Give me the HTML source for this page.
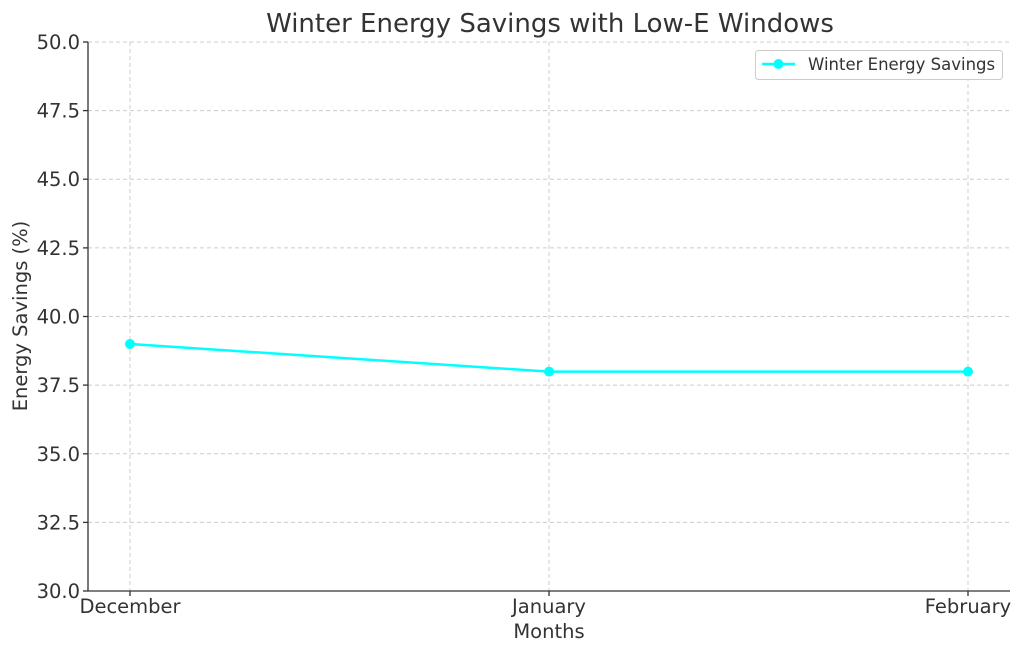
<!DOCTYPE html>
<html><head><style>body{margin:0;background:#fff}svg{display:block}text{font-family:"DejaVu Sans","Liberation Sans",sans-serif;fill:#333}</style></head><body>
<svg width="1024" height="655" viewBox="0 0 1024 655" xmlns="http://www.w3.org/2000/svg">
<rect width="1024" height="655" fill="#fff"/>
<g stroke="#ccc" stroke-width="1" stroke-dasharray="4,3">
<line x1="88" y1="42" x2="1010" y2="42"/><line x1="88" y1="110.6" x2="1010" y2="110.6"/><line x1="88" y1="179.2" x2="1010" y2="179.2"/><line x1="88" y1="247.9" x2="1010" y2="247.9"/><line x1="88" y1="316.5" x2="1010" y2="316.5"/><line x1="88" y1="385.1" x2="1010" y2="385.1"/><line x1="88" y1="453.8" x2="1010" y2="453.8"/><line x1="88" y1="522.4" x2="1010" y2="522.4"/>
<line x1="130" y1="42" x2="130" y2="591"/><line x1="549" y1="42" x2="549" y2="591"/><line x1="968" y1="42" x2="968" y2="591"/>
</g>
<g stroke="#333" stroke-width="1.3"><line x1="88" y1="42" x2="88" y2="591"/><line x1="88" y1="591" x2="1010" y2="591"/>
<line x1="83" y1="42" x2="88" y2="42"/><line x1="83" y1="110.6" x2="88" y2="110.6"/><line x1="83" y1="179.2" x2="88" y2="179.2"/><line x1="83" y1="247.9" x2="88" y2="247.9"/><line x1="83" y1="316.5" x2="88" y2="316.5"/><line x1="83" y1="385.1" x2="88" y2="385.1"/><line x1="83" y1="453.8" x2="88" y2="453.8"/><line x1="83" y1="522.4" x2="88" y2="522.4"/><line x1="83" y1="591" x2="88" y2="591"/>
<line x1="130" y1="591" x2="130" y2="596"/><line x1="549" y1="591" x2="549" y2="596"/><line x1="968" y1="591" x2="968" y2="596"/></g>
<g font-size="19.5" text-anchor="end">
<text x="80" y="49">50.0</text><text x="80" y="117.6">47.5</text><text x="80" y="186.2">45.0</text><text x="80" y="254.9">42.5</text><text x="80" y="323.5">40.0</text><text x="80" y="392.1">37.5</text><text x="80" y="460.8">35.0</text><text x="80" y="529.4">32.5</text><text x="80" y="598">30.0</text></g>
<g font-size="19.5" text-anchor="middle"><text x="130" y="613">December</text><text x="549" y="613">January</text><text x="968" y="613">February</text>
<text x="549" y="638">Months</text>
<text x="550" y="32" font-size="26">Winter Energy Savings with Low-E Windows</text></g>
<text font-size="19.5" text-anchor="middle" transform="translate(27,316) rotate(-90)">Energy Savings (%)</text>
<polyline points="130,344 549,371.6 968,371.6" fill="none" stroke="#00ffff" stroke-width="2.5"/>
<g fill="#00ffff"><circle cx="130" cy="344" r="5"/><circle cx="549" cy="371.6" r="5"/><circle cx="968" cy="371.6" r="5"/></g>
<rect x="755.5" y="50.5" width="247" height="29" rx="3" fill="#fff" stroke="#ccc"/>
<line x1="762" y1="64" x2="795" y2="64" stroke="#00ffff" stroke-width="2.5"/><circle cx="778.5" cy="64" r="5" fill="#00ffff"/>
<text x="808" y="70" font-size="16.5">Winter Energy Savings</text>
</svg></body></html>
